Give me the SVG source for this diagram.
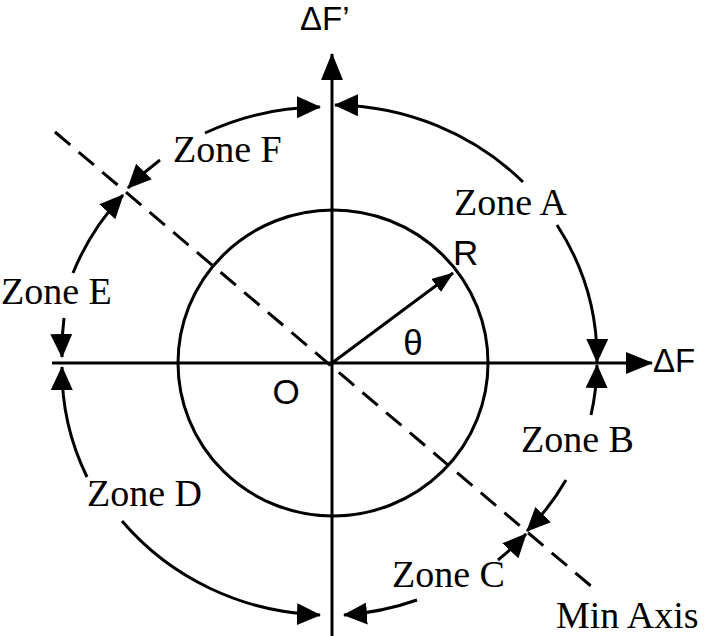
<svg xmlns="http://www.w3.org/2000/svg" width="707" height="636" viewBox="0 0 707 636">
<style>
.ln{fill:none;stroke:#000;stroke-width:3}
.zone{fill:none;stroke:#000;stroke-width:3;marker-end:url(#ah)}
.zl{font-family:"Liberation Serif","Times New Roman",serif;font-size:38px;fill:#000}
.sl{font-family:"Liberation Sans",Arial,sans-serif;fill:#000}
</style>
<defs>
<marker id="ah" markerUnits="userSpaceOnUse" markerWidth="24" markerHeight="24" viewBox="0 0 24 24" refX="23" refY="12" orient="auto">
<path d="M0,1 L24,12 L0,23 z" fill="#000"/>
</marker>
<marker id="axh" markerUnits="userSpaceOnUse" markerWidth="27" markerHeight="24" viewBox="0 0 27 24" refX="26" refY="12" orient="auto">
<path d="M0,1 L27,12 L0,23 z" fill="#000"/>
</marker>
<marker id="rh" markerUnits="userSpaceOnUse" markerWidth="22" markerHeight="18" viewBox="0 0 22 18" refX="21" refY="9" orient="auto">
<path d="M0,1 L22,9 L0,17 z" fill="#000"/>
</marker>
</defs>
<rect width="707" height="636" fill="#fff"/>
<g id="axes">
<line class="ln" x1="332" y1="636" x2="332" y2="54" marker-end="url(#axh)"/>
<line class="ln" x1="52" y1="363" x2="652" y2="363" marker-end="url(#axh)"/>
<line class="ln" x1="55" y1="132" x2="598" y2="592" stroke-dasharray="20 11"/>
</g>
<g id="circle">
<ellipse class="ln" cx="333" cy="363" rx="155" ry="153"/>
<line class="ln" x1="332" y1="363" x2="453" y2="273" marker-end="url(#rh)"/>
</g>
<g id="connectors">
<path class="zone" d="M523,182 A267,255 0 0 0 335,105"/>
<path class="zone" d="M557,225 A267,255 0 0 1 597,362"/>
<path class="zone" d="M591,415 A267,255 0 0 0 597,365"/>
<path class="zone" d="M566,480 A267,255 0 0 1 527,531"/>
<path class="zone" d="M498,560 A267,255 0 0 0 526,534"/>
<path class="zone" d="M417,600 A267,255 0 0 1 344,615"/>
<path class="zone" d="M122,521 A267,255 0 0 0 320,615"/>
<path class="zone" d="M87,477 A267,255 0 0 1 62,367"/>
<path class="zone" d="M64,318 A267,255 0 0 0 62,357"/>
<path class="zone" d="M73,273 A267,255 0 0 1 123,195"/>
<path class="zone" d="M160,160 A267,255 0 0 0 128,188"/>
<path class="zone" d="M205,133 A267,255 0 0 1 320,107"/>
</g>
<g id="labels">
<text class="sl" x="300" y="30" font-size="33">ΔF’</text>
<text class="sl" x="653" y="372" font-size="33">ΔF</text>
<text class="sl" x="286" y="404" font-size="35" text-anchor="middle">O</text>
<text class="sl" x="453" y="265" font-size="35">R</text>
<text class="sl" x="413" y="355" font-size="35" text-anchor="middle">θ</text>
</g>
<g id="zoneA"><text class="zl" x="454" y="215">Zone A</text></g>
<g id="zoneB"><text class="zl" x="521" y="452">Zone B</text></g>
<g id="zoneC"><text class="zl" x="392" y="587">Zone C</text></g>
<g id="zoneD"><text class="zl" x="87" y="506">Zone D</text></g>
<g id="zoneE"><text class="zl" x="1" y="304">Zone E</text></g>
<g id="zoneF"><text class="zl" x="173" y="162">Zone F</text></g>
<g id="minaxis"><text class="zl" x="556" y="628">Min Axis</text></g>
</svg>
